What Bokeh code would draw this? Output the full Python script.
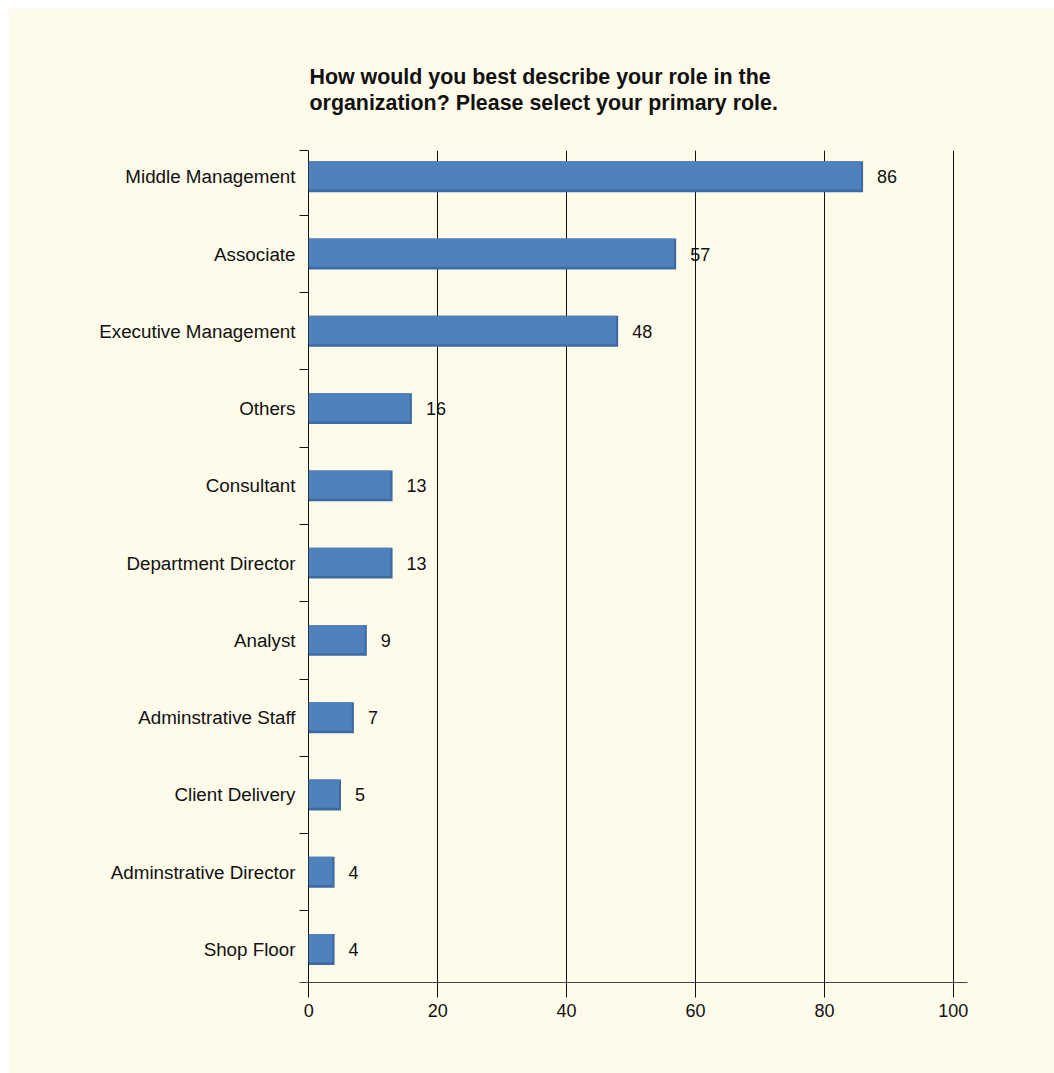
from bokeh.plotting import figure
from bokeh.models import FixedTicker, Title, ColumnDataSource
from bokeh.core.properties import value
from bokeh.transform import dodge
from bokeh.embed import file_html
from bokeh.resources import INLINE

categories = ["Middle Management", "Associate", "Executive Management", "Others",
              "Consultant", "Department Director", "Analyst", "Adminstrative Staff",
              "Client Delivery", "Adminstrative Director", "Shop Floor"]
counts = [86, 57, 48, 16, 13, 13, 9, 7, 5, 4, 4]
x_ticks = [0, 20, 40, 60, 80, 100]
title_lines = ["How would you best describe your role in the",
               "organization? Please select your primary role."]

BG = "#FEFBEA"
FONT = "Liberation Sans"
n = len(categories)
ypos = [n - 1 - i for i in range(n)]  # top category first

p = figure(width=1046, height=1065, x_range=(-1.44, 102.2), y_range=(-0.427, 10.34),
           output_backend="svg", toolbar_location=None,
           min_border_left=291, min_border_right=87, min_border_top=142, min_border_bottom=91,
           background_fill_color=BG, border_fill_color=BG, outline_line_color=None)
p.margin = (8, 0, 0, 8)

p.add_layout(Title(text="\n".join(title_lines), text_font=FONT, text_font_size="21.4px",
                   text_font_style="bold", text_color="#111111", align="left",
                   offset=10, standoff=70, text_line_height=1.1), "above")

src = ColumnDataSource(dict(y=ypos, v=counts, cat=categories,
                            label=[str(c) for c in counts]))

# bars: shadow (offset right/down) then face
p.hbar(y="y", left=0, right="v", height=0.4, source=src,
       fill_color="#3D6AA3", line_color=None)
p.hbar(y=dodge("y", 0.017, range=p.y_range), left=0, right=dodge("v", -0.33, range=p.x_range),
       height=0.366, source=src, fill_color="#4F81BD", line_color=None)

p.text(x="v", y="y", text="label", source=src, x_offset=14, text_baseline="middle",
       text_align="left", text_font=value(FONT), text_font_size="18px", text_color="#111111")

# x axis
xa = p.xaxis[0]
xa.ticker = FixedTicker(ticks=x_ticks)
xa.axis_line_color = "#444444"
xa.major_tick_out = 15
xa.major_tick_in = 0
xa.minor_tick_out = 0
xa.minor_tick_in = 0
xa.major_tick_line_color = "#111111"
xa.major_label_text_font = FONT
xa.major_label_text_font_size = "18px"
xa.major_label_text_color = "#111111"
xa.major_label_standoff = 6

# y axis: labels at category centres, boundary ticks as minor ticks pointing inward
ya = p.yaxis[0]
bounds = [i + 0.5 for i in range(n - 1)] + [10.34]
ya.ticker = FixedTicker(ticks=ypos, minor_ticks=bounds)
ya.major_label_overrides = {y: c for y, c in zip(ypos, categories)}
ya.axis_line_color = None
ya.major_tick_in = 0
ya.major_tick_out = 0
ya.minor_tick_in = 9
ya.minor_tick_out = 0
ya.minor_tick_line_color = "#111111"
ya.major_label_text_font = FONT
ya.major_label_text_font_size = "18.8px"
ya.major_label_text_color = "#111111"
ya.major_label_standoff = 4

p.xgrid.ticker = FixedTicker(ticks=x_ticks)
p.xgrid.grid_line_color = "#111111"
p.ygrid.grid_line_color = None

open("out.html", "w").write(file_html(p, INLINE))
